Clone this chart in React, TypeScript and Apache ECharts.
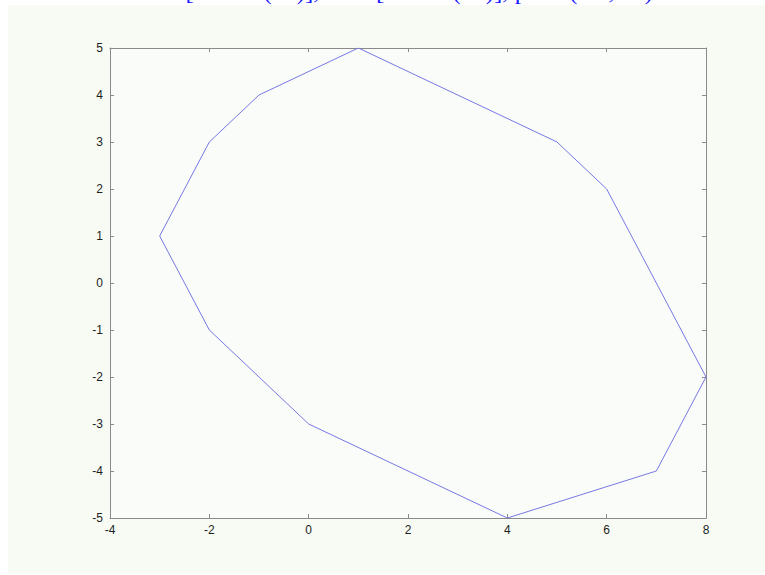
import React, { useEffect, useRef } from "react";
import * as echarts from "echarts";

const xValues = [1, 5, 6, 8, 7, 4, 0, -2, -3, -2, -1, 1];
const yValues = [5, 3, 2, -2, -4, -5, -3, -1, 1, 3, 4, 5];
const xRange = [-4, 8];
const yRange = [-5, 5];
const headerText = "xh = [xcoord( k )], zh = [zcoord( k )], patch(xh , zh)";

export default function App() {
  const ref = useRef<HTMLDivElement>(null);
  useEffect(() => {
    if (!ref.current) return;
    const chart = echarts.init(ref.current, null, { renderer: "svg" });
    const data = xValues.map((x, i) => [x, yValues[i]]);
    const axisLine = { show: true, onZero: false, lineStyle: { color: "#8a8a8a", width: 1 } };
    const axisTick = { show: true, inside: true, length: 4, lineStyle: { color: "#8a8a8a" } };
    const label = { color: "#1e1e1e", fontSize: 12, fontFamily: "Liberation Sans, Arial, sans-serif" };
    chart.setOption({
      animation: false,
      backgroundColor: "#ffffff",
      graphic: [
        {
          type: "rect",
          z: -10,
          shape: { x: 8, y: 5, width: 757, height: 568 },
          style: { fill: "#f7fbf4" },
          silent: true,
        },
        {
          type: "text",
          x: 134,
          y: 3,
          style: {
            text: headerText,
            fill: "#1a1aff",
            font: "25px 'Liberation Serif', 'Times New Roman', serif",
            verticalAlign: "bottom",
          },
          silent: true,
        },
      ],
      grid: { left: 110, top: 48, right: 59, bottom: 57, show: true, backgroundColor: "#f9fcf8", borderWidth: 0 },
      xAxis: [
        {
          type: "value",
          min: xRange[0],
          max: xRange[1],
          interval: 2,
          position: "bottom",
          axisLine,
          axisTick,
          splitLine: { show: false },
          axisLabel: { ...label, margin: 6 },
        },
        {
          type: "value",
          min: xRange[0],
          max: xRange[1],
          interval: 2,
          position: "top",
          axisLine,
          axisTick,
          splitLine: { show: false },
          axisLabel: { show: false },
        },
      ],
      yAxis: [
        {
          type: "value",
          min: yRange[0],
          max: yRange[1],
          interval: 1,
          position: "left",
          axisLine,
          axisTick,
          splitLine: { show: false },
          axisLabel: { ...label, margin: 7 },
        },
        {
          type: "value",
          min: yRange[0],
          max: yRange[1],
          interval: 1,
          position: "right",
          axisLine,
          axisTick,
          splitLine: { show: false },
          axisLabel: { show: false },
        },
      ],
      series: [
        {
          type: "line",
          data,
          showSymbol: false,
          symbol: "none",
          lineStyle: { color: "#7878e2", width: 1 },
          xAxisIndex: 0,
          yAxisIndex: 0,
        },
      ],
    });
    return () => chart.dispose();
  }, []);
  return (
    <div
      ref={ref}
      style={{ position: "absolute", left: 0, top: 0, width: 765, height: 575 }}
    />
  );
}
